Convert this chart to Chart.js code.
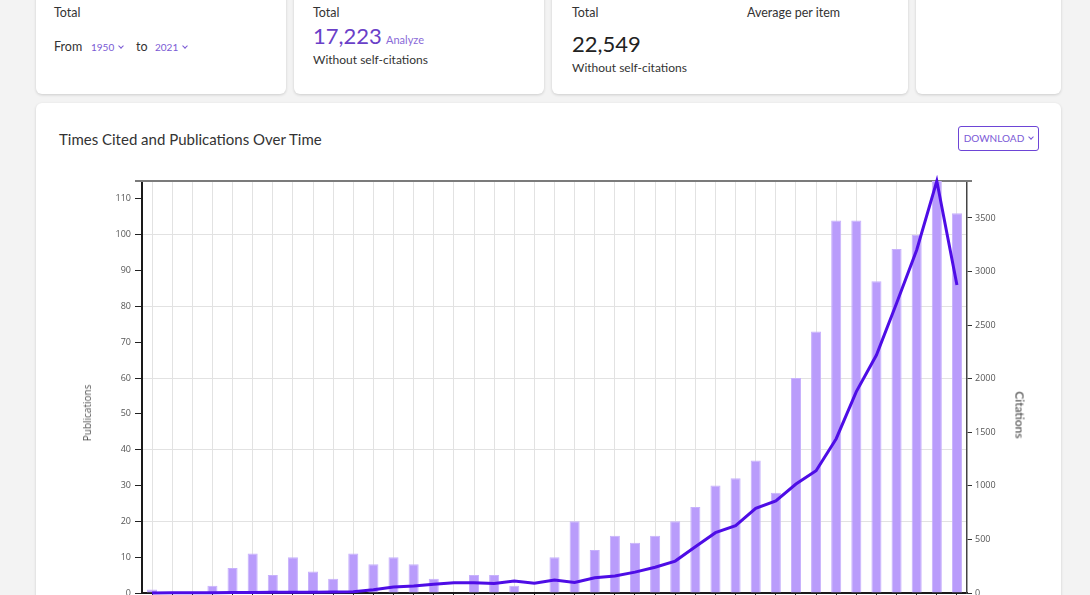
<!DOCTYPE html>
<html><head><meta charset="utf-8">
<script src="https://cdn.jsdelivr.net/npm/chart.js@4/dist/chart.umd.min.js"></script>
<style>
html,body{margin:0;padding:0;width:1090px;height:595px;overflow:hidden;background:#f3f3f3;font-family:Lato,"Open Sans",sans-serif;color:#333;}
.card{position:absolute;background:#fff;border-radius:6px;box-shadow:0 1px 3px rgba(0,0,0,0.16);}
.t{position:absolute;white-space:nowrap;line-height:16px;}
.chev{display:inline-block;width:3px;height:3px;border-right:1px solid currentColor;border-bottom:1px solid currentColor;transform:rotate(45deg);margin-left:5px;position:relative;top:-3px;}
.purple{color:#7a5ad4;}
#chartWrap{position:absolute;left:36px;top:160px;}
.axt{position:absolute;white-space:nowrap;font-weight:400;}
</style></head>
<body>
<div class="card" style="left:36px;top:-60px;width:250px;height:154px;">
  <div class="t" style="left:18px;top:65px;font-size:12.5px;">Total</div>
  <div class="t" style="left:18px;top:99px;font-size:12.5px;">From</div>
  <div class="t purple" style="left:55px;top:99px;font-size:10px;">1950<span class="chev"></span></div>
  <div class="t" style="left:100px;top:99px;font-size:12.5px;">to</div>
  <div class="t purple" style="left:119px;top:99px;font-size:10px;">2021<span class="chev"></span></div>
</div>
<div class="card" style="left:294px;top:-60px;width:250px;height:154px;">
  <div class="t" style="left:19px;top:65px;font-size:12.5px;">Total</div>
  <div class="t" style="left:19px;top:82px;font-size:22px;line-height:28px;color:#6a40c8;">17,223</div>
  <div class="t" style="left:92px;top:92px;font-size:11px;color:#8a6ad8;">Analyze</div>
  <div class="t" style="left:19px;top:112px;font-size:12px;">Without self-citations</div>
</div>
<div class="card" style="left:552px;top:-60px;width:356px;height:154px;">
  <div class="t" style="left:20px;top:65px;font-size:12.5px;">Total</div>
  <div class="t" style="left:195px;top:65px;font-size:12.5px;">Average per item</div>
  <div class="t" style="left:20px;top:90px;font-size:22px;line-height:28px;color:#222;">22,549</div>
  <div class="t" style="left:20px;top:120px;font-size:12px;">Without self-citations</div>
</div>
<div class="card" style="left:916px;top:-60px;width:145px;height:154px;"></div>

<div class="card" style="left:36px;top:103px;width:1025px;height:560px;">
  <div class="t" style="left:23px;top:27px;font-size:15px;line-height:18px;color:#333;">Times Cited and Publications Over Time</div>
  <div style="position:absolute;left:922px;top:23px;width:79px;height:23px;border:1px solid #6d45d6;border-radius:3px;font-size:10px;line-height:23px;text-align:center;color:#7a58d6;">DOWNLOAD<span class="chev"></span></div>
</div>

<div id="chartWrap"><canvas id="c" width="1025" height="473"></canvas></div>
<div class="axt" style="left:87px;top:413px;font-family:'Open Sans',sans-serif;font-size:10px;color:#555;transform:translate(-50%,-50%) rotate(-90deg);">Publications</div>
<div class="axt" style="left:1020px;top:415px;font-family:Lato,sans-serif;font-size:12px;color:#3a3a3a;transform:translate(-50%,-50%) rotate(90deg);">Citations</div>

<script>
const years = ['1981','1982','1983','1984','1985','1986','1987','1988','1989','1990',
  '1991','1992','1993','1994','1995','1996','1997','1998','1999','2000',
  '2001','2002','2003','2004','2005','2006','2007','2008','2009','2010',
  '2011','2012','2013','2014','2015','2016','2017','2018','2019','2020','2021'];
const publications = [1,0,0,2,7,11,5,10,6,4,
  11,8,10,8,4,0,5,5,2,0,
  10,20,12,16,14,16,20,24,30,32,
  37,28,60,73,104,104,87,96,100,115,106];
const citations = [0,2,2,3,4,5,6,8,8,9,
  12,30,55,65,82,96,96,88,112,92,
  121,98,143,159,195,240,298,432,563,628,
  790,859,1017,1141,1440,1880,2221,2704,3201,3845,2875];
const publicationTicks = [0,10,20,30,40,50,60,70,80,90,100,110];
const citationTicks = [0,500,1000,1500,2000,2500,3000,3500];

const pubMax = Math.max(...publications);
const citeMax = Math.max(...citations);
const tickFont = {family:'"Open Sans", sans-serif', size:9};

const frame = {
  id:'frame',
  beforeDatasetsDraw(chart){
    const {ctx, chartArea:a} = chart;
    ctx.save();
    ctx.strokeStyle = '#7b7b7b';
    ctx.lineWidth = 2;
    ctx.beginPath();
    ctx.moveTo(a.left - 7, a.top);
    ctx.lineTo(a.right + 5, a.top);
    ctx.stroke();
    ctx.restore();
  }
};

new Chart(document.getElementById('c'), {
  data: {
    labels: years,
    datasets: [
      {type:'line', label:'Citations', data:citations, yAxisID:'yR',
       borderColor:'#4e0de6', borderWidth:3, pointRadius:0, pointHoverRadius:0,
       tension:0, fill:false, clip:false, order:1},
      {type:'bar', label:'Publications', data:publications, yAxisID:'yL',
       backgroundColor:'#b99cfb', borderColor:'#c7b1fc', borderWidth:1,
       barPercentage:0.5, categoryPercentage:1, order:2}
    ]
  },
  options: {
    responsive:false, animation:false, devicePixelRatio:1,
    layout:{padding:{top:21,left:0,right:0,bottom:0}},
    plugins:{legend:{display:false}, tooltip:{enabled:false}},
    scales:{
      x:{type:'category', offset:true,
         grid:{offset:false, color:'#e2e2e2', lineWidth:1, tickColor:'#222', tickLength:4},
         border:{color:'#1a1a1a', width:2},
         ticks:{font:tickFont, color:'#555', autoSkip:false, maxRotation:90, minRotation:90},
         afterFit(s){ s.height = 40; }},
      yL:{type:'linear', position:'left', min:0, max:pubMax,
         afterBuildTicks(s){ s.ticks = publicationTicks.map(v => ({value:v})); },
         grid:{color:c => (c.tick && c.tick.value > 0 && c.tick.value % 20 === 0) ? '#e2e2e2' : 'rgba(0,0,0,0)',
               tickColor:'#222', tickLength:7, lineWidth:1},
         border:{color:'#1a1a1a', width:2},
         ticks:{font:tickFont, color:'#555', padding:4, callback:v => String(v)},
         afterFit(s){ s.width = 106; }},
      yR:{type:'linear', position:'right', min:0, max:citeMax,
         afterBuildTicks(s){ s.ticks = citationTicks.map(v => ({value:v})); },
         grid:{drawOnChartArea:false, tickColor:'#333', tickLength:5},
         border:{color:'#444', width:1.5},
         ticks:{font:tickFont, color:'#555', padding:3, callback:v => String(v)},
         afterFit(s){ s.width = 94; }}
    }
  },
  plugins:[frame]
});
</script>
</body></html>
